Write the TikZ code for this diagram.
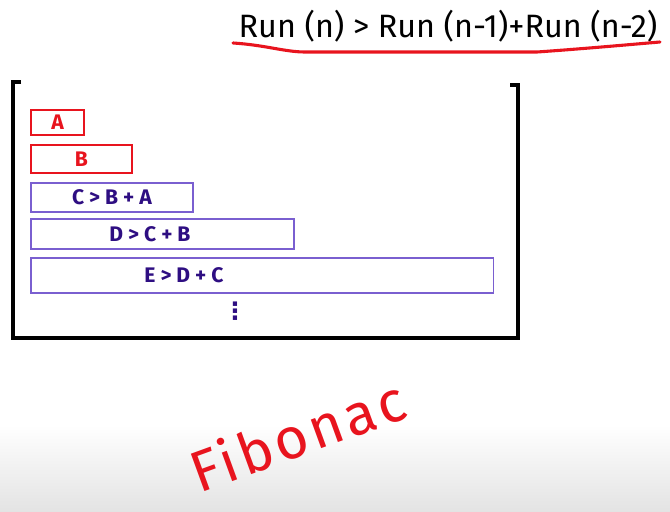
\documentclass[tikz,border=0pt]{standalone}
\usepackage{fontspec}
\setmainfont{Fira Sans}
\newfontfamily\dotsfont{DejaVu Sans}
\usepackage{xcolor}
\definecolor{fiboRed}{HTML}{E8141E}
\definecolor{fiboPurple}{HTML}{7A5FD0}
\definecolor{fiboIndigo}{HTML}{2E0E82}
\usepackage{tikz}
\usetikzlibrary{positioning}

\begin{document}
\begin{tikzpicture}[
  x=0.025cm, y=-0.025cm,
  basecell/.style={
    thick, fill=white, inner sep=0pt,
    font=\fontsize{15}{15}\selectfont\bfseries
  },
  seedcell/.style={basecell, draw=fiboRed, text=fiboRed},
  sumcell/.style={basecell, draw=fiboPurple, text=fiboIndigo},
  celltext/.style={font=\fontsize{15}{15}\selectfont\bfseries, text=fiboIndigo},
  stack/.style={line width=2.2pt, black},
  scribble/.style={line width=2.2pt, fiboRed, line cap=round}
]

\useasboundingbox (0,0) rectangle (670,512);

% ---- fond (bas grise) ----
\shade[top color=white, bottom color=gray!22] (0,425) rectangle (670,512);

% ---- Titre ----
\node[font=\fontsize{23}{23}\selectfont] (rule) at (448,26)
  {Run (n) > Run (n-1)+Run (n-2)};
\draw[scribble] (233,43) .. controls (265,45) and (285,52) .. (305,52)
  -- (537,52) .. controls (580,49) and (625,45) .. (660,42);

% ---- Pile ----
\draw[stack] (21,82) -- (13,82) -- (13,338) -- (518,338) -- (518,85) -- (510,85);

% ---- Cases ----
\node[seedcell, minimum width=1.325cm, minimum height=0.625cm] (cellA) at (57.5,122.5) {A};
\node[seedcell, minimum width=2.525cm, minimum height=0.7cm] (cellB) at (81.5,159) {B};
\node[sumcell, minimum width=4.05cm, minimum height=0.725cm] (cellC) at (112,197.5) {C > B + A};
\node[sumcell, minimum width=6.575cm, minimum height=0.75cm] (cellD) at (162.5,234) {};
\node[sumcell, minimum width=11.55cm, minimum height=0.875cm] (cellE) at (262,275.5) {};
\node[celltext] (textD) at (150,234) {D > C + B};
\node[celltext] (textE) at (184,275.5) {E > D + C};

\node[text=fiboIndigo, font=\dotsfont\fontsize{17}{17}\selectfont\bfseries, inner sep=0pt]
  (more) at (235,311) {⋮};

% ---- Fibonac ----
\node[text=fiboRed, font=\fontsize{41}{41}\selectfont\addfontfeature{LetterSpace=6},
  rotate=20, anchor=base west, inner sep=1pt] (fibo) at (198,494) {Fibonac};

\end{tikzpicture}
\end{document}
